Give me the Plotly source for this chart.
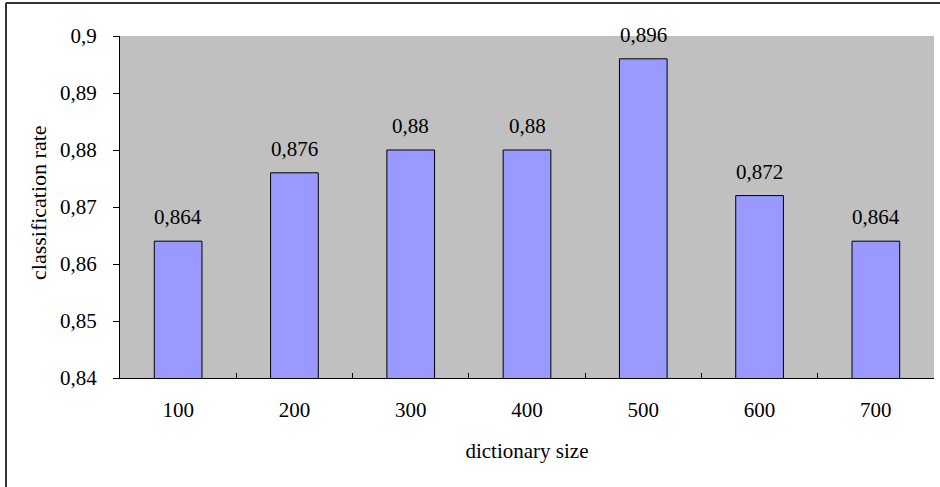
import plotly.graph_objects as go

# Classification rate by dictionary size
dict_sizes = ["100", "200", "300", "400", "500", "600", "700"]
rates = [0.864, 0.876, 0.88, 0.88, 0.896, 0.872, 0.864]
y_ticks = [0.84, 0.85, 0.86, 0.87, 0.88, 0.89, 0.9]

W, H = 940, 487
ML, MR, MT, MB = 120, 6, 36, 109
PW, PH = W - ML - MR, H - MT - MB

FONT = "Liberation Serif"
FS = 21

pos = list(range(len(dict_sizes)))
bounds = [i + 0.5 for i in range(len(dict_sizes) - 1)]

fig = go.Figure(
    go.Bar(
        x=pos,
        y=rates,
        width=0.41,
        marker=dict(color="#9999FF", line=dict(color="#000000", width=1)),
        customdata=dict_sizes,
        hovertemplate="%{customdata}: %{y}<extra></extra>",
    )
)

# value labels above each bar
for p, v in zip(pos, rates):
    fig.add_annotation(
        x=p, y=v, text=f"{v:g}".replace(".", ","),
        showarrow=False, yshift=24,
        font=dict(family=FONT, size=FS, color="#000000"),
    )

# outer chart frame (left and top edges)
fx0 = (6 - ML) / PW
fy1 = 1 + (MT - 3) / PH
fig.add_shape(type="line", xref="paper", yref="paper", x0=fx0, x1=fx0, y0=-2, y1=fy1,
              line=dict(color="#333333", width=2))
fig.add_shape(type="line", xref="paper", yref="paper", x0=fx0, x1=1.1, y0=fy1, y1=fy1,
              line=dict(color="#333333", width=2))

# y axis title
fig.add_annotation(
    xref="paper", yref="paper", x=(38 - ML) / PW, y=1 - (203 - MT) / PH,
    xanchor="center", yanchor="middle",
    text="classification rate", textangle=-90, showarrow=False,
    font=dict(family=FONT, size=22, color="#000000"),
)

fig.update_layout(
    width=W, height=H,
    margin=dict(l=ML, r=MR, t=MT, b=MB),
    paper_bgcolor="#FFFFFF",
    plot_bgcolor="#C0C0C0",
    separators=",.",
    showlegend=False,
    font=dict(family=FONT, size=FS, color="#000000"),
    xaxis=dict(
        range=[-0.5, len(dict_sizes) - 0.5],
        tickvals=pos, ticktext=dict_sizes, ticks="",
        minor=dict(tickvals=bounds, ticks="inside", ticklen=5, tickcolor="#000000", showgrid=False),
        showline=True, linecolor="#000000", linewidth=1,
        showgrid=False, zeroline=False,
        title=dict(text="dictionary size", font=dict(family=FONT, size=FS), standoff=22),
        tickfont=dict(family=FONT, size=FS),
        ticklabelstandoff=13,
    ),
    yaxis=dict(
        range=[0.84, 0.9],
        tickvals=y_ticks,
        showline=True, linecolor="#000000", linewidth=1,
        ticks="outside", ticklen=6, tickcolor="#000000",
        showgrid=False, zeroline=False,
        tickfont=dict(family=FONT, size=FS),
        ticklabelstandoff=12,
    ),
)

fig.write_html("out.html")
